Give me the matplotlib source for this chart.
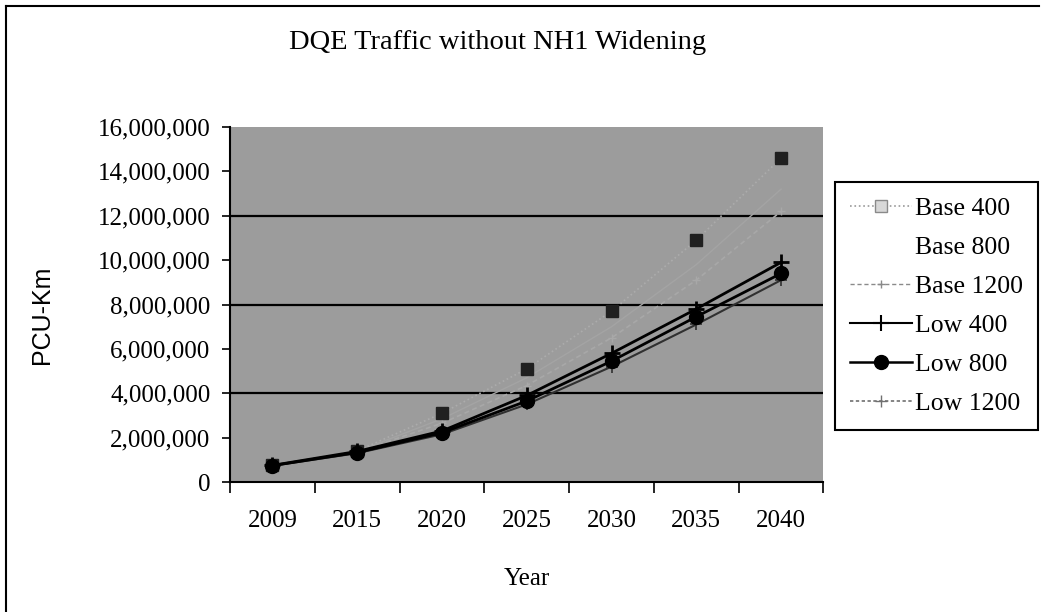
import numpy as np
import matplotlib
matplotlib.use("Agg")
import matplotlib.pyplot as plt
from matplotlib.ticker import FuncFormatter, FixedLocator
from matplotlib.lines import Line2D

# Chart values
years = ["2009", "2015", "2020", "2025", "2030", "2035", "2040"]
base_400 = [750000, 1400000, 3100000, 5100000, 7700000, 10900000, 14600000]
base_800 = [745000, 1380000, 2850000, 4700000, 7000000, 9800000, 13200000]
base_1200 = [740000, 1360000, 2650000, 4350000, 6500000, 9100000, 12200000]
low_400 = [750000, 1380000, 2300000, 3900000, 5800000, 7800000, 9900000]
low_800 = [740000, 1330000, 2220000, 3650000, 5450000, 7450000, 9400000]
low_1200 = [730000, 1300000, 2150000, 3500000, 5200000, 7100000, 9100000]

serif = "Liberation Serif"

fig = plt.figure(figsize=(10.41, 6.12), dpi=100)
ax = fig.add_axes([0.221, 0.2124, 0.570, 0.580])
ax.set_facecolor("#9c9c9c")

x = np.arange(len(years))

# Base series - faint in the scan
ax.plot(x, base_1200, color="#a8a8a8", lw=1.2, ls=(0, (3, 2)), marker="+",
        ms=6, mew=1, label="Base 1200", zorder=3)
ax.plot(x, base_800, color="#a4a4a4", lw=1.0, label="Base 800", zorder=3)
ax.plot(x, base_400, color="#acacac", lw=1.2, ls=":", marker="s", ms=8,
        mfc="#202020", mec="#202020", label="Base 400", zorder=4)

# Low series
ax.plot(x, low_1200, color="#303030", lw=1.5, marker="+", ms=8, mew=1.2,
        label="Low 1200", zorder=4)
ax.plot(x, low_400, color="black", lw=2.0, marker="+", ms=12, mew=2,
        label="Low 400", zorder=5)
ax.plot(x, low_800, color="black", lw=2.0, marker="o", ms=10,
        label="Low 800", zorder=6)

ax.set_xlim(-0.5, len(years) - 0.5)
ax.set_ylim(0, 16000000)
ax.set_yticks(np.arange(0, 16000001, 2000000))
ax.yaxis.set_major_formatter(FuncFormatter(lambda v, p: f"{int(v):,}"))
for g in [4000000, 8000000, 12000000]:
    ax.axhline(g, color="black", lw=1.6, zorder=2)

# category ticks sit between the labels
ax.xaxis.set_major_locator(FixedLocator(np.arange(-0.5, len(years), 1.0)))
ax.xaxis.set_minor_locator(FixedLocator(x))
ax.set_xticklabels([])
ax.set_xticklabels(years, minor=True)
ax.tick_params(axis="x", which="major", length=8, width=1.2, direction="out")
ax.tick_params(axis="x", which="minor", length=0, pad=20)
ax.tick_params(axis="y", length=6, width=1.2, direction="out", pad=8)
for lbl in ax.get_xticklabels(minor=True) + ax.get_yticklabels():
    lbl.set_fontfamily(serif)
    lbl.set_fontsize(18)

for s in ["top", "right"]:
    ax.spines[s].set_visible(False)
for s in ["left", "bottom"]:
    ax.spines[s].set_linewidth(1.5)
    ax.spines[s].set_color("black")

ax.set_xlabel("Year", fontfamily=serif, fontsize=18, labelpad=26)
fig.text(0.040, 0.485, "PCU-Km", rotation=90, ha="center", va="center",
         fontfamily="Liberation Sans", fontsize=18)
fig.text(0.478, 0.930, "DQE Traffic without NH1 Widening", ha="center",
         va="center", fontfamily=serif, fontsize=20.5)

labels = ["Base 400", "Base 800", "Base 1200", "Low 400", "Low 800", "Low 1200"]
leg_handles = [
    Line2D([], [], color="#9a9a9a", lw=1.2, ls=":", marker="s", ms=8,
           mfc="#d8d8d8", mec="#8a8a8a"),
    Line2D([], [], color="white", lw=1.0),
    Line2D([], [], color="#8a8a8a", lw=1.0, ls=(0, (3, 2)), marker="+", ms=6),
    Line2D([], [], color="black", lw=1.5, marker="+", ms=12, mew=1.5),
    Line2D([], [], color="black", lw=1.8, marker="o", ms=10),
    Line2D([], [], color="#707070", lw=1.2, ls=(0, (2, 1.5)), marker="+", ms=8),
]
leg = fig.legend(leg_handles, labels, loc="center left",
                 bbox_to_anchor=(0.802, 0.50), frameon=True, fancybox=False,
                 edgecolor="black", facecolor="white", framealpha=1,
                 prop={"family": serif, "size": 18.5}, handlelength=2.4,
                 handletextpad=0.1, labelspacing=0.62, borderpad=0.6,
                 borderaxespad=0)
leg.get_frame().set_linewidth(1.5)

# outer border of the scanned chart
fig.add_artist(Line2D([0.006, 0.006], [0.0, 0.99], color="black", lw=1.5,
                      transform=fig.transFigure))
fig.add_artist(Line2D([0.006, 0.998], [0.99, 0.99], color="black", lw=1.5,
                      transform=fig.transFigure))

fig.savefig("out.png", dpi=100)
